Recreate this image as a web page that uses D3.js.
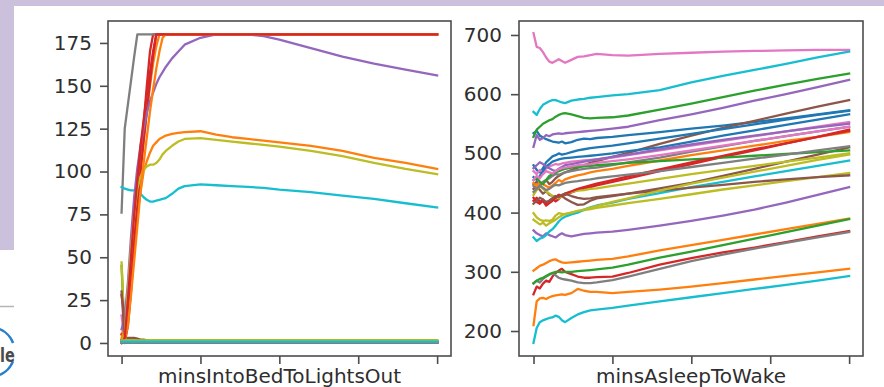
<!DOCTYPE html>
<html>
<head>
<meta charset="utf-8">
<script src="https://cdn.jsdelivr.net/npm/d3@7"></script>
<style>
  html, body { margin: 0; padding: 0; background: #fff; }
  svg { display: block; }
  text { font-family: "DejaVu Sans", sans-serif; }
</style>
</head>
<body>
<svg id="chart" width="884" height="387"></svg>
<script>
// ---------- DATA ----------
const palette = ['#1f77b4','#ff7f0e','#2ca02c','#d62728','#9467bd','#8c564b','#e377c2','#7f7f7f','#bcbd22','#17becf'];

const leftTitle = "minsIntoBedToLightsOut";
const rightTitle = "minsAsleepToWake";
const leftYTicks = [0, 25, 50, 75, 100, 125, 150, 175];
const rightYTicks = [200, 300, 400, 500, 600, 700];
const xTicks = [0, 25, 50, 75, 100];

// sample positions (index along the night, 0..100)
const leftX  = [0,1,2,3,4,5,6,7,8,9,10,11,12,13,14,16,18,20,25,30,35,40,45,50,60,70,80,90,100];
const rightX = [0,1,2,3,4,5,6,7,8,9,10,12,14,16,18,20,25,30,40,50,60,70,80,90,100];

// minsIntoBedToLightsOut, one array per series (colour = palette[i % 10])
const leftSeries = [
  [2,0,0,0,0,0,0,0,0,0,0,0,0,0,0,0,0,0,0,0,0,0,0,0,0,0,0,0,0],
  [5,10,20,40,60,75,88,100,106,111,115,117,119,120,121,122,122.5,123,123.5,121.5,120,119,118,117,115,112,108,105,101.5],
  [45,3,0,0,0,0,0,0,0,0,0,0,0,0,0,0,0,0,0,0,0,0,0,0,0,0,0,0,0],
  [5,0,10,30,55,80,105,128,150,170,180,180,180,180,180,180,180,180,180,180,180,180,180,180,180,180,180,180,180],
  [1,1,1,1,1,1,1,1,1,1,1,1,1,1,1,1,1,1,1,1,1,1,1,1,1,1,1,1,1],
  [0,2,3,3,3,2.5,2,2,1.5,1,1,0.5,0,0,0,0,0,0,0,0,0,0,0,0,0,0,0,0,0],
  [16,1,0,0,0,0,0,0,0,0,0,0,0,0,0,0,0,0,0,0,0,0,0,0,0,0,0,0,0],
  [76,125,139,153,167,180,180,180,180,180,180,180,180,180,180,180,180,180,180,180,180,180,180,180,180,180,180,180,180],
  [47,3,0,0,0,0,0,0,0,0,0,0,0,0,0,0,0,0,0,0,0,0,0,0,0,0,0,0,0],
  [91,90,89.5,89,89,89,87,85,83.5,82.5,82.5,83,83.5,84,84.5,87,90,91.5,92.5,92,91.5,91,90.5,89.5,88,86,84,81.5,79],
  [0,0,0,0,0,0,0,0,0,0,0,0,0,0,0,0,0,0,0,0,0,0,0,0,0,0,0,0,0],
  [3,8,20,40,60,80,100,118,135,150,163,173,180,180,180,180,180,180,180,180,180,180,180,180,180,180,180,180,180],
  [1.5,1.5,1.5,1.5,1.5,1.5,1.5,1.5,1.5,1.5,1.5,1.5,1.5,1.5,1.5,1.5,1.5,1.5,1.5,1.5,1.5,1.5,1.5,1.5,1.5,1.5,1.5,1.5,1.5],
  [28,14,18,35,58,80,100,118,135,152,168,180,180,180,180,180,180,180,180,180,180,180,180,180,180,180,180,180,180],
  [8,15,35,62,85,102,115,125,134,141,146,151,155,158,161,166,170,174,178,180,180,180,179,177,172,167,163,159.5,156],
  [30,2,0,0,0,0,0,0,0,0,0,0,0,0,0,0,0,0,0,0,0,0,0,0,0,0,0,0,0],
  [0,0,0,0,0,0,0,0,0,0,0,0,0,0,0,0,0,0,0,0,0,0,0,0,0,0,0,0,0],
  [0.5,0.5,0.5,0.5,0.5,0.5,0.5,0.5,0.5,0.5,0.5,0.5,0.5,0.5,0.5,0.5,0.5,0.5,0.5,0.5,0.5,0.5,0.5,0.5,0.5,0.5,0.5,0.5,0.5],
  [0,5,30,55,75,90,97,101,103,104,104,105,107,110,112,115,117.5,119,119.5,118.5,117.5,116.5,115.5,114.5,112,109,105,101.5,98.5],
  [1,1,1,1,1,1,1,1,1,1,1,1,1,1,1,1,1,1,1,1,1,1,1,1,1,1,1,1,1],
  [0,0,0,0,0,0,0,0,0,0,0,0,0,0,0,0,0,0,0,0,0,0,0,0,0,0,0,0,0],
  [0,2,10,28,48,68,88,105,120,135,148,160,170,178,180,180,180,180,180,180,180,180,180,180,180,180,180,180,180],
  [1,1,1,1,1,1,1,1,1,1,1,1,1,1,1,1,1,1,1,1,1,1,1,1,1,1,1,1,1],
  [0,3,25,50,75,95,115,130,145,158,170,180,180,180,180,180,180,180,180,180,180,180,180,180,180,180,180,180,180],
  [0,0,0,0,0,0,0,0,0,0,0,0,0,0,0,0,0,0,0,0,0,0,0,0,0,0,0,0,0],
  [0.5,0.5,0.5,0.5,0.5,0.5,0.5,0.5,0.5,0.5,0.5,0.5,0.5,0.5,0.5,0.5,0.5,0.5,0.5,0.5,0.5,0.5,0.5,0.5,0.5,0.5,0.5,0.5,0.5],
  [0,0,0,0,0,0,0,0,0,0,0,0,0,0,0,0,0,0,0,0,0,0,0,0,0,0,0,0,0],
  [0,0,0,0,0,0,0,0,0,0,0,0,0,0,0,0,0,0,0,0,0,0,0,0,0,0,0,0,0],
  [1.5,1.5,1.5,1.5,1.5,1.5,1.5,1.5,1.5,1.5,1.5,1.5,1.5,1.5,1.5,1.5,1.5,1.5,1.5,1.5,1.5,1.5,1.5,1.5,1.5,1.5,1.5,1.5,1.5],
  [0.8,0.8,0.8,0.8,0.8,0.8,0.8,0.8,0.8,0.8,0.8,0.8,0.8,0.8,0.8,0.8,0.8,0.8,0.8,0.8,0.8,0.8,0.8,0.8,0.8,0.8,0.8,0.8,0.8]
];

// minsAsleepToWake, one array per series
const rightSeries = [
  [534,538,530,527,524,522,520,519,518,520,517,519,523,525,524,526,528,531,536,542,547,553,559,566,573],
  [210,250,255,256,254,257,259,260,261,262,261,264,271,268,266,266,264,266,270,275,281,287,293,299,305],
  [528,540,545,550,553,556,558,562,565,567,568,566,563,560,559,560,561,564,574,584,595,606,616,626,635],
  [262,275,272,280,285,283,292,298,302,305,300,296,292,290,290,291,292,298,312,323,333,341,350,360,369],
  [511,531,523,526,531,529,532,533,534,533,534,535,536,537,538,539,542,545,556,566,577,589,600,612,624],
  [448,452,445,450,455,448,452,458,462,465,468,472,476,480,484,487,494,501,516,530,543,555,567,579,590],
  [703,680,678,671,662,655,653,656,659,656,653,658,663,664,666,668,666,665,668,670,672,673,674,675,675],
  [280,285,282,288,292,295,298,294,290,288,287,285,282,281,281,282,286,292,305,318,329,339,349,358,367],
  [399,392,388,386,387,386,388,395,399,398,397,400,402,404,406,408,412,416,423,431,439,446,453,460,467],
  [570,565,575,582,585,588,590,590,588,586,585,589,591,592,594,595,598,600,607,620,631,641,651,662,672],
  [480,472,468,475,485,490,495,497,500,498,499,502,505,507,509,510,513,517,525,533,541,549,557,565,572],
  [302,306,310,312,315,318,320,321,318,316,315,316,317,318,319,320,322,326,336,345,354,363,372,381,390],
  [281,285,288,290,293,296,298,300,300,299,300,300,301,302,303,304,307,312,324,334,345,356,367,378,389],
  [420,425,418,422,415,420,424,419,423,428,430,434,438,440,443,446,452,458,470,482,494,505,517,528,540],
  [370,365,362,360,365,362,360,358,362,365,362,360,362,364,365,366,368,371,378,386,395,405,417,430,443],
  [440,445,438,432,436,430,428,425,430,428,424,418,413,414,420,424,428,432,441,450,462,474,486,498,510],
  [470,465,472,468,475,478,480,482,481,483,484,486,487,488,489,490,493,497,505,513,521,529,537,545,553],
  [445,440,448,452,455,458,462,465,464,466,468,470,472,474,475,476,480,485,493,503,512,521,529,537,545],
  [430,438,445,440,436,432,428,426,424,428,432,435,437,438,440,441,445,449,457,465,472,479,486,493,500],
  [358,352,356,358,362,368,372,378,385,390,393,397,400,405,409,412,417,423,433,443,452,461,470,479,488],
  [460,455,462,470,478,482,486,488,490,491,492,493,494,495,496,497,500,504,510,520,530,539,548,557,566],
  [450,445,452,448,445,442,446,450,455,452,456,460,463,465,468,470,474,479,488,497,505,513,521,528,536],
  [455,460,452,448,455,462,465,468,470,472,474,476,477,478,479,480,482,484,487,490,493,496,499,502,505],
  [425,418,415,420,412,416,420,425,430,428,432,436,440,443,446,449,455,461,473,485,496,507,517,528,538],
  [475,480,485,482,478,475,472,470,474,477,480,482,484,486,488,490,494,498,507,515,523,530,537,544,550],
  [415,420,425,422,418,420,424,428,426,430,432,428,425,423,424,426,429,432,437,442,447,452,456,460,463],
  [455,462,458,465,470,468,466,470,473,475,476,478,480,481,482,484,487,490,497,505,513,521,529,537,545],
  [435,440,445,442,438,440,444,447,446,448,450,452,453,455,456,458,461,464,470,477,484,491,498,505,512],
  [388,384,380,383,378,382,385,388,392,395,398,400,403,405,408,411,418,424,437,449,459,469,479,489,498],
  [180,205,215,218,220,222,223,226,224,218,215,222,228,232,235,236,239,243,250,257,264,271,278,285,293]
];

// ---------- CHECK ----------
leftSeries.forEach((s, i) => { if (s.length !== leftX.length) throw new Error("left series " + i + " has " + s.length); });
rightSeries.forEach((s, i) => { if (s.length !== rightX.length) throw new Error("right series " + i + " has " + s.length); });

// ---------- DRAW ----------
const svg = d3.select("#chart");

// page decoration around the figure
svg.append("rect").attr("x", 0).attr("y", 0).attr("width", 884).attr("height", 6).attr("fill", "#cbc1dc");
svg.append("rect").attr("x", 0).attr("y", 0).attr("width", 14).attr("height", 250).attr("fill", "#cbc1dc");
svg.append("line").attr("x1", 0).attr("x2", 14).attr("y1", 306.5).attr("y2", 306.5).attr("stroke", "#b5b5b5").attr("stroke-width", 1.5);
const arc = d3.arc();
svg.append("path").attr("transform", "translate(-10,352)")
  .attr("d", arc({innerRadius: 23.5, outerRadius: 26, startAngle: 0.15, endAngle: 1.2}))
  .attr("fill", "#2a7fc9");
svg.append("path").attr("transform", "translate(-10,352)")
  .attr("d", arc({innerRadius: 23.5, outerRadius: 26, startAngle: 1.95, endAngle: 3.0}))
  .attr("fill", "#2a7fc9");
svg.append("text").attr("transform", "translate(0,362) scale(1,1.35)")
  .attr("x", 0).attr("y", 0).attr("text-anchor", "start")
  .attr("font-size", 14.5).attr("font-weight", "bold").attr("fill", "#4a4a4a").text("le");

function panel(cfg) {
  const x = d3.scaleLinear().domain(cfg.xDomain).range([cfg.left, cfg.right]);
  const y = d3.scaleLinear().domain(cfg.yDomain).range([cfg.bottom, cfg.top]);
  const g = svg.append("g");

  const line = d3.line().x(d => x(d[0])).y(d => y(d[1]));
  cfg.series.forEach((vals, i) => {
    g.append("path")
      .datum(vals.map((v, k) => [cfg.xs[k], v]))
      .attr("d", line)
      .attr("fill", "none")
      .attr("stroke", palette[i % 10])
      .attr("stroke-width", 2.3)
      .attr("stroke-linejoin", "round")
      .attr("stroke-linecap", "square");
  });

  // frame
  g.append("rect")
    .attr("x", cfg.left).attr("y", cfg.top)
    .attr("width", cfg.right - cfg.left).attr("height", cfg.bottom - cfg.top)
    .attr("fill", "none").attr("stroke", "#4d4d4d").attr("stroke-width", 1.6);

  const yAxis = g.append("g").attr("transform", `translate(${cfg.left},0)`)
    .call(d3.axisLeft(y).tickValues(cfg.yTicks).tickSize(8).tickPadding(cfg.pad).tickFormat(d3.format("d")));
  const xAxis = g.append("g").attr("transform", `translate(0,${cfg.bottom})`)
    .call(d3.axisBottom(x).tickValues(xTicks).tickSize(8).tickFormat(""));
  [yAxis, xAxis].forEach(a => {
    a.select(".domain").remove();
    a.selectAll(".tick line").attr("stroke", "#4d4d4d").attr("stroke-width", 1.6);
    a.selectAll(".tick text").attr("font-size", 20).attr("fill", "#2e2e2e")
      .attr("font-family", "DejaVu Sans, sans-serif");
  });

  g.append("text")
    .attr("x", (cfg.left + cfg.right) / 2).attr("y", 383)
    .attr("text-anchor", "middle").attr("font-size", 20).attr("fill", "#2e2e2e")
    .text(cfg.title);
}

panel({
  left: 108, right: 451, top: 21, bottom: 356,
  xDomain: [-4.3, 104.4], yDomain: [-7.6, 187.8],
  xs: leftX, series: leftSeries, yTicks: leftYTicks, pad: 8, title: leftTitle
});
panel({
  left: 519, right: 863, top: 21, bottom: 356,
  xDomain: [-4.6, 104.4], yDomain: [157.8, 723.6],
  xs: rightX, series: rightSeries, yTicks: rightYTicks, pad: 9, title: rightTitle
});
</script>
</body>
</html>
